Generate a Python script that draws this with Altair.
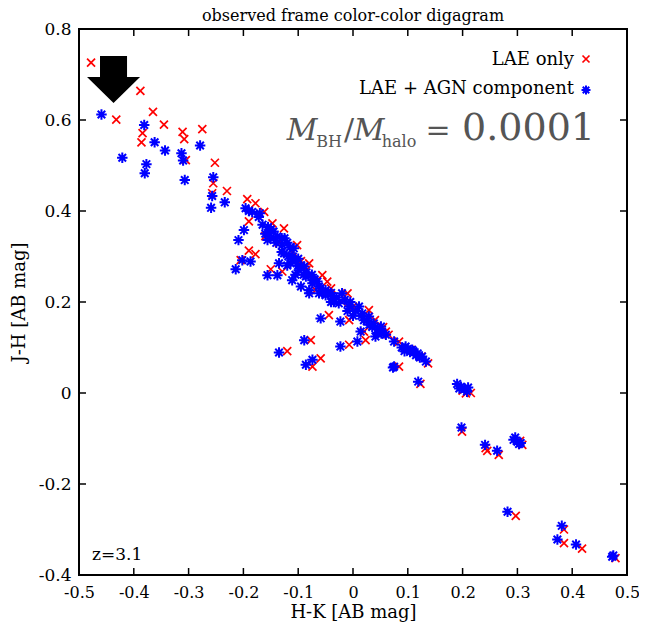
import altair as alt
import pandas as pd

# ---- data ----
lae_x = [-0.478, -0.432, -0.388, -0.365, -0.384, -0.386, -0.345, -0.311, -0.308, -0.305,
         -0.275, -0.252, -0.255, -0.257, -0.230,
         -0.193, -0.178, -0.162, -0.190, -0.147, -0.126, -0.190, -0.178, -0.205, -0.102,
         -0.150, -0.129, -0.080, -0.068,
         -0.056, -0.047, -0.010, -0.044, -0.007, 0.020, 0.023, 0.029, 0.060, -0.077,
         -0.007, 0.084, -0.059, -0.074, 0.084, -0.120,
         0.123, 0.206, 0.199, 0.242, 0.266, 0.309, 0.297, 0.385, 0.385, 0.418, 0.479,
         0.105, 0.125, 0.200, 0.215, 0.305, 0.245, 0.137,
         -0.110, -0.095, -0.085, -0.040, -0.020, 0.000, 0.040, 0.055, -0.135, -0.160, 0.065]
lae_y = [0.726, 0.601, 0.664, 0.618, 0.571, 0.551, 0.590, 0.574, 0.558, 0.512,
         0.580, 0.506, 0.461, 0.439, 0.444,
         0.426, 0.417, 0.398, 0.377, 0.373, 0.362, 0.313, 0.305, 0.292, 0.325,
         0.272, 0.267, 0.285, 0.226,
         0.259, 0.245, 0.219, 0.171, 0.160, 0.135, 0.116, 0.182, 0.135, 0.116,
         0.106, 0.113, 0.076, 0.058, 0.058, 0.092,
         0.020, -0.001, -0.085, -0.121, -0.136, -0.114, -0.270, -0.300, -0.330, -0.342, -0.363,
         0.095, 0.080, 0.005, 0.000, -0.105, -0.127, 0.065,
         0.310, 0.290, 0.270, 0.230, 0.200, 0.190, 0.160, 0.145, 0.330, 0.345, 0.128]

agn_x = [-0.459, -0.421, -0.381, -0.377, -0.380, -0.362, -0.343, -0.313, -0.310, -0.307,
         -0.279, -0.255, -0.257, -0.259, -0.234,
         -0.196, -0.184, -0.172, -0.199, -0.209, -0.153, -0.138, -0.156, -0.129, -0.126,
         -0.108, -0.202, -0.187, -0.214, -0.135, -0.156, -0.138, -0.111, -0.114, -0.099,
         -0.086, -0.074, -0.062, -0.095, -0.080, -0.056,
         -0.150, -0.145, -0.160, -0.130, -0.120, -0.190,
         -0.118, -0.105, -0.100, -0.090, -0.070,
         -0.089, -0.074, -0.080, -0.062, -0.050, -0.038, -0.020, -0.026, -0.007, 0.011,
         0.017, 0.029, 0.038, 0.051, 0.053, 0.041, -0.059, -0.023, 0.014, 0.008,
         -0.089, -0.023, 0.075, 0.096, 0.108, -0.074, -0.086, 0.075,
         -0.040, -0.010, 0.000, 0.020, 0.030, 0.045, -0.030, -0.045,
         -0.135,
         0.052, 0.089, 0.100, 0.110, 0.118, 0.126, 0.133, 0.073, 0.119, 0.190,
         0.197, 0.203, 0.208, 0.198, 0.241, 0.263, 0.293, 0.300, 0.306, 0.282,
         0.381, 0.373, 0.407, 0.473, 0.475,
         -0.170, -0.165, -0.155, -0.145, -0.140, -0.125, -0.115, -0.110, -0.100, -0.095,
         -0.085, -0.075, -0.065, -0.060, -0.050, -0.040, -0.035, -0.015, -0.005, 0.005,
         0.015, 0.025, 0.035, 0.045, 0.060, -0.120, -0.105, -0.130,
         0.094, 0.104, 0.115, 0.122, 0.194, 0.210, 0.296, 0.303]
agn_y = [0.612, 0.517, 0.589, 0.503, 0.483, 0.551, 0.533, 0.527, 0.511, 0.468,
         0.544, 0.474, 0.433, 0.407, 0.419,
         0.406, 0.398, 0.387, 0.358, 0.336, 0.351, 0.344, 0.336, 0.325, 0.307,
         0.318, 0.292, 0.289, 0.272, 0.285, 0.259, 0.259, 0.248, 0.285, 0.270,
         0.256, 0.241, 0.234, 0.234, 0.219, 0.219,
         0.360, 0.340, 0.350, 0.340, 0.330, 0.400,
         0.300, 0.290, 0.280, 0.260, 0.250,
         0.278, 0.248, 0.226, 0.219, 0.226, 0.212, 0.219, 0.197, 0.190, 0.190,
         0.175, 0.168, 0.153, 0.146, 0.135, 0.124, 0.164, 0.157, 0.135, 0.113,
         0.116, 0.102, 0.113, 0.102, 0.095, 0.073, 0.062, 0.058,
         0.200, 0.180, 0.170, 0.160, 0.150, 0.140, 0.210, 0.220,
         0.089,
         0.131, 0.100, 0.097, 0.092, 0.087, 0.080, 0.069, 0.056, 0.025, 0.020,
         0.014, 0.008, 0.003, -0.076, -0.114, -0.127, -0.103, -0.107, -0.110, -0.261,
         -0.292, -0.322, -0.333, -0.360, -0.357,
         0.395, 0.370, 0.365, 0.355, 0.330, 0.340, 0.320, 0.300, 0.295, 0.280,
         0.265, 0.260, 0.245, 0.230, 0.215, 0.220, 0.200, 0.205, 0.200, 0.180,
         0.170, 0.158, 0.145, 0.132, 0.128, 0.280, 0.260, 0.310,
         0.092, 0.090, 0.083, 0.078, 0.010, 0.012, -0.098, -0.112]

x_ticks = [-0.5, -0.4, -0.3, -0.2, -0.1, 0.0, 0.1, 0.2, 0.3, 0.4, 0.5]
y_ticks = [-0.4, -0.2, 0.0, 0.2, 0.4, 0.6, 0.8]
arrow_x = [-0.437]
arrow_y = [0.689]

W, H = 548, 546
FONT = "DejaVu Serif"

LABEL = ("datum.value == 0 ? '0' : (datum.value < 0 ? '-' + format(-datum.value, '.1f')"
         " : format(datum.value, '.1f'))")

xs = alt.Scale(domain=[-0.5, 0.5], nice=False, zero=False)
ys = alt.Scale(domain=[-0.4, 0.8], nice=False, zero=False)
xaxis = alt.Axis(values=x_ticks, ticks=False, domain=False, grid=False, labelExpr=LABEL,
                 labelFont=FONT, labelFontSize=16, labelColor="black", labelPadding=9,
                 title="H-K [AB mag]", titleFont=FONT, titleFontSize=18,
                 titleFontWeight="normal", titleColor="black", titlePadding=3,
                 labelOverlap=False, labelFlush=False)
yaxis = alt.Axis(values=y_ticks, ticks=False, domain=False, grid=False, labelExpr=LABEL,
                 labelFont=FONT, labelFontSize=17, labelColor="black", labelPadding=8,
                 title="J-H [AB mag]", titleFont=FONT, titleFontSize=18,
                 titleFontWeight="normal", titleColor="black", titlePadding=10,
                 labelOverlap=False, labelFlush=False)


def X(f):
    return alt.X(f, type="quantitative", scale=xs, axis=xaxis)


def Y(f):
    return alt.Y(f, type="quantitative", scale=ys, axis=yaxis)


lae = pd.DataFrame({"x": lae_x, "y": lae_y})
agn = pd.DataFrame({"x": agn_x, "y": agn_y})

CROSS = "M-1,-1L1,1M-1,1L1,-1"
STAR = "M-1,0L1,0M0,-1L0,1M-0.72,-0.72L0.72,0.72M-0.72,0.72L0.72,-0.72"
ARROW = "M-0.51,-0.887L0.51,-0.887L0.51,-0.094L1,-0.094L0,0.887L-1,-0.094L-0.51,-0.094Z"

red = alt.Chart(lae).mark_point(shape=CROSS, size=64, filled=False, color="#ff0000",
                                strokeWidth=1.7, opacity=1).encode(x=X("x"), y=Y("y"))
blue = alt.Chart(agn).mark_point(shape=STAR, size=110, filled=False, color="#0000ff",
                                 strokeWidth=2, opacity=1).encode(x=X("x"), y=Y("y"))

arrow = alt.Chart(pd.DataFrame({"x": arrow_x, "y": arrow_y})).mark_point(
    shape=ARROW, size=2809, filled=True, color="black", opacity=1, strokeWidth=0
).encode(x=X("x"), y=Y("y"))

inner_x = pd.DataFrame({"t": x_ticks[1:-1]})
inner_y = pd.DataFrame({"t": y_ticks[1:-1]})
TL = 7
tick_b = alt.Chart(inner_x).mark_rule(color="black", strokeWidth=1.5).encode(
    x=X("t"), y=alt.value(H), y2=alt.value(H - TL))
tick_t = alt.Chart(inner_x).mark_rule(color="black", strokeWidth=1.5).encode(
    x=X("t"), y=alt.value(0), y2=alt.value(TL))
tick_l = alt.Chart(inner_y).mark_rule(color="black", strokeWidth=1.5).encode(
    y=Y("t"), x=alt.value(0), x2=alt.value(TL))
tick_r = alt.Chart(inner_y).mark_rule(color="black", strokeWidth=1.5).encode(
    y=Y("t"), x=alt.value(W), x2=alt.value(W - TL))

# title as text
title = alt.Chart(pd.DataFrame({"t": ["observed frame color-color digagram"]})).mark_text(
    font=FONT, fontSize=16, align="center", baseline="alphabetic", color="black"
).encode(text="t:N", x=alt.value(W / 2), y=alt.value(-8))

# legend
leg_text = alt.Chart(pd.DataFrame({"t": ["LAE only", "LAE + AGN component"],
                                   "py": [31, 60]})).mark_text(
    font=FONT, fontSize=18, align="right", baseline="middle", color="black"
).encode(text="t:N", x=alt.value(495), y=alt.Y("py:Q", scale=None))
leg_red = alt.Chart(pd.DataFrame({"a": [1]})).mark_point(
    shape=CROSS, size=49, filled=False, color="#ff0000", strokeWidth=1.7, opacity=1
).encode(x=alt.value(507), y=alt.value(30))
leg_blue = alt.Chart(pd.DataFrame({"a": [1]})).mark_point(
    shape=STAR, size=81, filled=False, color="#0000ff", strokeWidth=2, opacity=1
).encode(x=alt.value(507), y=alt.value(61))

# M_BH / M_halo = 0.0001 annotation
GRAY = "#555555"
m_italic = pd.DataFrame({"t": ["M", "M"], "px": [223, 290], "py": [111, 111]})
m_sub = pd.DataFrame({"t": ["BH", "halo"], "px": [250, 320], "py": [118, 118]})
m_rest = pd.DataFrame({"t": ["/", "="], "px": [270, 359], "py": [111, 111]})
m_num = pd.DataFrame({"t": ["0.0001"], "px": [449.5], "py": [111]})

mt1 = alt.Chart(m_italic).mark_text(
    font=FONT, fontSize=30, fontStyle="italic", align="center",
    baseline="alphabetic", color=GRAY
).encode(text="t:N", x=alt.X("px:Q", scale=None), y=alt.Y("py:Q", scale=None))
mt2 = alt.Chart(m_sub).mark_text(
    font=FONT, fontSize=16, align="center", baseline="alphabetic", color=GRAY
).encode(text="t:N", x=alt.X("px:Q", scale=None), y=alt.Y("py:Q", scale=None))
mt3 = alt.Chart(m_rest).mark_text(
    font=FONT, fontSize=30, align="center", baseline="alphabetic", color=GRAY
).encode(text="t:N", x=alt.X("px:Q", scale=None), y=alt.Y("py:Q", scale=None))
mt4 = alt.Chart(m_num).mark_text(
    font=FONT, fontSize=38, align="center", baseline="alphabetic", color=GRAY
).encode(text="t:N", x=alt.X("px:Q", scale=None), y=alt.Y("py:Q", scale=None))

ztext = alt.Chart(pd.DataFrame({"t": ["z=3.1"]})).mark_text(
    font=FONT, fontSize=17, align="left", baseline="alphabetic", color="black"
).encode(text="t:N", x=alt.value(13), y=alt.value(531))

chart = alt.layer(
    red, blue, arrow, tick_b, tick_t, tick_l, tick_r, title,
    leg_text, leg_red, leg_blue, mt1, mt2, mt3, mt4, ztext
).properties(
    width=W, height=H,
    autosize=alt.AutoSizeParams(type="none"),
    padding={"left": 71, "top": 21, "right": 12, "bottom": 49},
    background="white",
).configure_view(stroke="black", strokeWidth=2)

chart.save("out.html", embed_options={"renderer": "svg", "actions": False})
